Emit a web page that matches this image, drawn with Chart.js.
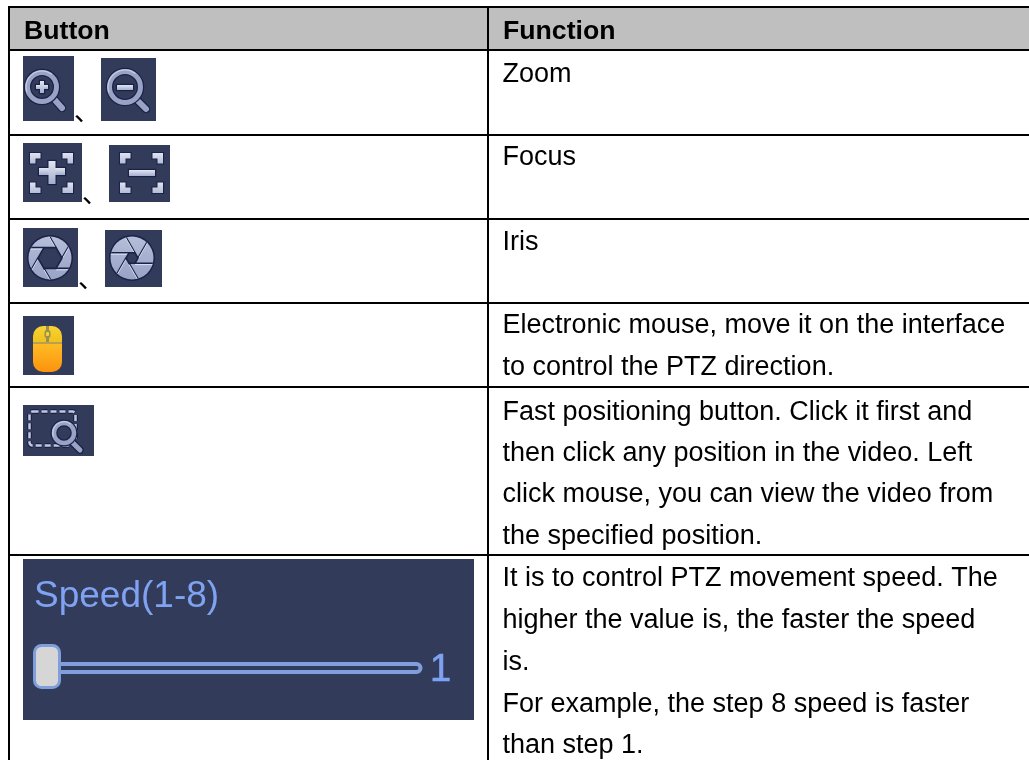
<!DOCTYPE html>
<html><head><meta charset="utf-8">
<style>html,body{margin:0;padding:0;background:#fff}canvas{display:block}</style>
<script src="https://cdn.jsdelivr.net/npm/chart.js@4"></script>
</head><body><canvas id="c" width="1029" height="760"></canvas>
<script>
const headers = ["Button", "Function"];
const functionLines = [
  ["Zoom"],
  ["Focus"],
  ["Iris"],
  ["Electronic mouse, move it on the interface", "to control the PTZ direction."],
  ["Fast positioning button. Click it first and", "then click any position in the video. Left", "click mouse, you can view the video from", "the specified position."],
  ["It is to control PTZ movement speed. The", "higher the value is, the faster the speed", "is.", "For example, the step 8 speed is faster", "than step 1."]
];
const lineBaselines = [[82],[165],[250],[333,375],[420,461,502,544],[586,628,670,712,753]];
const rowRules = [7,50,135,219,303,387,555];
const columnRules = [9,488];
const headerBaseline = 39;
const columnTextX = [24,503];
const bodyTextX = 502.5;
const speedLabel = "Speed(1-8)";
const speedValue = "1";
const separator = "、";
const separatorAt = [[74,121],[82,203],[78,288]];

const BG="#333b5a", DARK="#1b2247", STEEL="#98a3c6", LIGHT="#c6cde2";

function panel(c,x0,y0,x1,y1){c.fillStyle=BG;c.fillRect(x0,y0,x1-x0,y1-y0);}
function strokeBoth(c,w,colour,draw){c.lineWidth=w;c.strokeStyle=colour;c.beginPath();draw();c.stroke();}
function lens(c,cx,cy,r,ring,hx0,hy0,hx1,hy1,w){
  c.lineCap="round";
  strokeBoth(c,w+2.5,DARK,()=>{c.moveTo(hx0,hy0);c.lineTo(hx1,hy1);});
  strokeBoth(c,w,STEEL,()=>{c.moveTo(hx0,hy0);c.lineTo(hx1,hy1);});
  strokeBoth(c,ring+2.5,DARK,()=>c.arc(cx,cy,r,0,7));
  strokeBoth(c,ring,STEEL,()=>c.arc(cx,cy,r,0,7));
  strokeBoth(c,1.2,LIGHT,()=>c.arc(cx,cy,r+ring/2-1,Math.PI*0.9,Math.PI*1.7));
  c.lineCap="butt";
}
function bar(c,x0,y0,x1,y1){
  c.fillStyle=DARK;c.fillRect(x0-1.2,y0-1.2,x1-x0+2.4,y1-y0+2.4);
}
function barFill(c,x0,y0,x1,y1){
  const g=c.createLinearGradient(0,y0,0,y1);g.addColorStop(0,"#e2e6f2");g.addColorStop(1,"#a4aecd");
  c.fillStyle=g;c.fillRect(x0,y0,x1-x0,y1-y0);
}
function corners(c,x0,x1,y0,y1){
  const s=10.5,t=5.5;
  const list=[[x0,y0,1,1],[x1,y0,-1,1],[x0,y1,1,-1],[x1,y1,-1,-1]];
  for(const [x,y,dx,dy] of list){
    const path=()=>{c.beginPath();c.moveTo(x,y);c.lineTo(x+dx*s,y);c.lineTo(x+dx*s,y+dy*t);c.lineTo(x+dx*t,y+dy*t);c.lineTo(x+dx*t,y+dy*s);c.lineTo(x,y+dy*s);c.closePath();};
    path();c.lineWidth=2.2;c.strokeStyle=DARK;c.stroke();
    const g=c.createLinearGradient(0,Math.min(y,y+dy*s),0,Math.max(y,y+dy*s));g.addColorStop(0,"#dfe3f0");g.addColorStop(1,"#b4bdd8");
    c.fillStyle=g;path();c.fill();
  }
}
function iris(c,cx,cy,r,h){
  const pt=(rad,a)=>[cx+rad*Math.cos(a),cy+rad*Math.sin(a)];
  c.save();
  c.beginPath();c.arc(cx,cy,r+1.5,0,7);c.fillStyle=DARK;c.fill();
  c.beginPath();c.arc(cx,cy,r,0,7);c.clip();
  const g=c.createLinearGradient(0,cy-r,0,cy+r);g.addColorStop(0,"#b6bed9");g.addColorStop(.5,"#a6b0cf");g.addColorStop(1,"#98a3c6");
  c.fillStyle=g;c.fillRect(cx-r-2,cy-r-2,2*r+4,2*r+4);
  for(let i=0;i<6;i++){
    const a=i*Math.PI/3, b=a+Math.PI/3;
    const p=pt(h,a), q=pt(h,b);
    const vx=p[0]-q[0], vy=p[1]-q[1], n=Math.hypot(vx,vy);
    const ex=p[0]+vx/n*r*1.6, ey=p[1]+vy/n*r*1.6;
    strokeBoth(c,1.6,DARK,()=>{c.moveTo(p[0],p[1]);c.lineTo(ex,ey);});
    strokeBoth(c,1,"#dfe3f1",()=>{c.moveTo(p[0],p[1]+1.4);c.lineTo(ex,ey+1.4);});
  }
  c.restore();
  c.beginPath();
  for(let i=0;i<6;i++){const p=pt(h,i*Math.PI/3);i?c.lineTo(p[0],p[1]):c.moveTo(p[0],p[1]);}
  c.closePath();c.fillStyle=BG;c.fill();c.lineWidth=1.6;c.strokeStyle=DARK;c.stroke();
}
function roundRect(c,x,y,w,h,r){c.beginPath();c.roundRect(x,y,w,h,r);}
function mouseIcon(c){
  panel(c,23,316,74,375);
  c.save();roundRect(c,33,326,29,46,10);c.clip();
  let g=c.createLinearGradient(0,326,0,342);g.addColorStop(0,"#f7d335");g.addColorStop(1,"#f0c21c");
  c.fillStyle=g;c.fillRect(33,326,29,16);
  c.fillStyle="#b8a050";c.fillRect(33,342,29,2);
  g=c.createLinearGradient(0,344,0,372);g.addColorStop(0,"#ffbb24");g.addColorStop(1,"#fb930e");
  c.fillStyle=g;c.fillRect(33,344,29,28);
  c.restore();
  c.fillStyle="#9c8f52";c.fillRect(46,326,3,16);
  roundRect(c,44.5,330,6,8,2.5);c.fillStyle="#9c8f52";c.fill();
  roundRect(c,46,332,3,4,1);c.fillStyle="#f6d437";c.fill();
}
function fastIcon(c){
  panel(c,23,405,94,456);
  c.setLineDash([6,3]);
  strokeBoth(c,5,DARK,()=>{c.roundRect(29.5,411.5,46,34,3);});
  strokeBoth(c,2.5,"#c0c8e0",()=>{c.roundRect(29.5,411.5,46,34,3);});
  c.setLineDash([]);
  c.fillStyle=BG;c.beginPath();c.arc(64,433,12,0,7);c.fill();
  lens(c,64,433,10,4.5,71,441,80,450,5);
}
function speedPanel(c){
  panel(c,23,559,474,720);
  c.fillStyle="#7fa3f2";
  c.font="37px 'Liberation Sans'";c.textAlign="left";c.textBaseline="alphabetic";
  c.fillText(speedLabel,34,607);
  c.font="38px 'Liberation Sans'";
  c.lineWidth=0.6;c.strokeStyle="#7fa3f2";
  c.fillText(speedValue,430,681);c.strokeText(speedValue,430,681);
  const k="#7f9edb";
  c.lineWidth=4;c.strokeStyle=k;
  c.beginPath();c.moveTo(60,664);c.lineTo(416,664);c.arcTo(420.5,664,420.5,668,4);c.arcTo(420.5,672,416,672,4);c.lineTo(60,672);c.stroke();
  c.lineWidth=3;
  roundRect(c,34.5,645.5,25,42,7);c.fillStyle="#d6d6d6";c.fill();c.stroke();
}
function icons(c){
  c.save();
  panel(c,23,56,74,121);panel(c,101,58,156,121);
  panel(c,23,143,82,202);panel(c,109,145,170,202);
  panel(c,23,228,78,287);panel(c,105,230,162,287);
  c.filter="blur(0.7px)";
  lens(c,42,87,14.5,5,54,99,62,108,6);
  bar(c,36,85,48,89);bar(c,40,81,44,93);barFill(c,36,85,48,89);barFill(c,40,81,44,93);
  lens(c,125,87,15.5,5,137,100,146,109,6);
  bar(c,117,85,133,90);barFill(c,117,85,133,90);
  corners(c,30,73,153,193);
  bar(c,39,168,65,175);bar(c,48.5,161,55.5,184);barFill(c,39,168,65,175);barFill(c,48.5,161,55.5,184);
  corners(c,120,163,153,193);
  bar(c,129,170,155,176);barFill(c,129,170,155,176);
  iris(c,50,258,21.5,12);
  iris(c,132,258,21.5,6);
  mouseIcon(c);
  fastIcon(c);
  c.filter="blur(0.5px)";
  speedPanel(c);
  c.restore();
}
const tablePlugin={
  id:"table",
  beforeDraw(chart){
    const c=chart.ctx,x=chart.scales.x,y=chart.scales.y;
    c.save();
    c.fillStyle="#bfbfbf";
    c.fillRect(x.getPixelForValue(columnRules[0]),y.getPixelForValue(rowRules[0]),x.right-x.getPixelForValue(columnRules[0]),y.getPixelForValue(rowRules[1])-y.getPixelForValue(rowRules[0]));
    c.restore();
  },
  afterDraw(chart){
    const c=chart.ctx,x=chart.scales.x,y=chart.scales.y;
    c.save();
    c.fillStyle="#000";c.textBaseline="alphabetic";c.textAlign="left";
    c.font="bold 26.67px 'Liberation Sans'";
    headers.forEach((h,i)=>c.fillText(h,x.getPixelForValue(columnTextX[i]),y.getPixelForValue(headerBaseline)));
    c.font="27px 'Liberation Sans'";
    functionLines.forEach((lines,r)=>lines.forEach((t,l)=>c.fillText(t,x.getPixelForValue(bodyTextX),y.getPixelForValue(lineBaselines[r][l]))));
    c.font="26px 'Noto Sans CJK SC'";
    separatorAt.forEach(p=>c.fillText(separator,x.getPixelForValue(p[0]),y.getPixelForValue(p[1])));
    icons(c);
    c.restore();
  }
};
new Chart(document.getElementById("c"),{
  type:"scatter",
  data:{datasets:[{data:[],showLine:false}]},
  options:{
    responsive:false,animation:false,devicePixelRatio:1,
    layout:{padding:{left:8,top:6,right:0,bottom:0}},
    plugins:{legend:{display:false},tooltip:{enabled:false},title:{display:false}},
    scales:{
      x:{type:"linear",min:8,max:1029,
        afterBuildTicks(s){s.ticks=columnRules.map(v=>({value:v}));},
        ticks:{display:false},border:{display:false},
        grid:{color:"#000",lineWidth:2,drawTicks:false}},
      y:{type:"linear",min:6,max:760,reverse:true,
        afterBuildTicks(s){s.ticks=rowRules.map(v=>({value:v}));},
        ticks:{display:false},border:{display:false},
        grid:{color:"#000",lineWidth:2,drawTicks:false}}
    }
  },
  plugins:[tablePlugin]
});
</script></body></html>
